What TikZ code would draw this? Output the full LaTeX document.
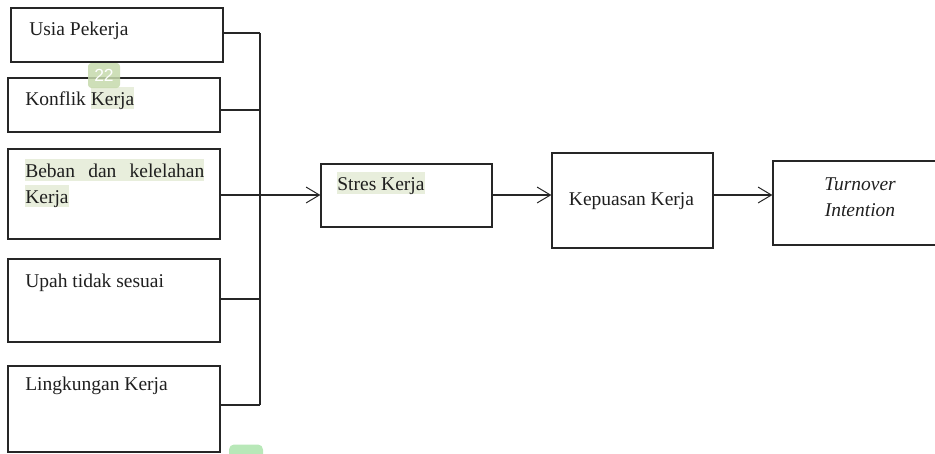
\documentclass[tikz,border=0pt]{standalone}
\usepackage{fontspec}
\setmainfont{Liberation Serif}
\setsansfont{Liberation Sans}
\usetikzlibrary{arrows.meta}
\definecolor{hlgreen}{HTML}{E8EEDC}
\definecolor{badgegreen}{HTML}{C6D9AC}
\definecolor{tabgreen}{HTML}{B8E8B8}
\newcommand{\hl}[1]{{\setlength{\fboxsep}{0pt}\colorbox{hlgreen}{\rule[-2.6pt]{0pt}{13.2pt}#1}}}
\begin{document}
\begin{tikzpicture}[x=0.6pt,y=-0.6pt,
		box/.style={draw=black!85, line width=0.7pt, minimum width=127.2pt, inner sep=0pt},
		lbl/.style={anchor=base west, inner sep=0pt, text=black!88, font=\fontsize{11.7}{15.6}\selectfont},
		link/.style={draw=black!85, line width=0.7pt},
		arr/.style={link, -{Straight Barb[length=8pt,width=9.5pt,line width=0.6pt]}}]
			\useasboundingbox (0,0) rectangle (935,453);
			\node [box, minimum height=32.4pt] (usia) at (117,35) {};
			\node [box, minimum height=32.4pt] (konflik) at (114,105) {};
			\node [box, minimum height=54pt] (beban) at (114,194) {};
			\node [box, minimum height=49.8pt] (upah) at (114,300.5) {};
			\node [box, minimum height=51.6pt] (lingkungan) at (114,409) {};
			\node [box, minimum width=102.6pt, minimum height=37.8pt] (stres) at (406.5,195.5) {};
			\node [box, minimum width=96.6pt, minimum height=57pt] (kepuasan) at (632.5,200.5) {};
			\node [box, minimum width=100.2pt, minimum height=50.4pt] (turnover) at (856.5,203) {};
			\node [lbl] (tusia) at (29,35) {Usia Pekerja};
			\node [lbl] (tkonflik) at (25,105) {Konflik \hl{Kerja}};
			\node [lbl, anchor=north west, align=left] (tbeban) at (25,159) {\hl{\makebox[107.4pt][s]{Beban dan kelelahan}}\\\hl{Kerja}};
			\node [lbl] (tupah) at (25,287) {Upah tidak sesuai};
			\node [lbl] (tlingkungan) at (25,390) {Lingkungan Kerja};
			\node [lbl] (tstres) at (337,190) {\hl{Stres Kerja}};
			\node [lbl, anchor=base] (tkepuasan) at (631.5,205) {Kepuasan Kerja};
			\node [lbl, anchor=center, align=center, font=\fontsize{11.7}{15.6}\selectfont\itshape] (tturnover) at (860,197) {Turnover\\Intention};
			\coordinate (j1) at (260,33);
			\coordinate (j2) at (260,110);
			\coordinate (j3) at (260,195);
			\coordinate (j4) at (260,299);
			\coordinate (j5) at (260,405);
			\draw [link] (j1) -- (j5);
			\draw [link] (usia.east |- j1) -- (j1);
			\draw [link] (konflik.east |- j2) -- (j2);
			\draw [link] (beban.east |- j3) -- (j3);
			\draw [link] (upah.east |- j4) -- (j4);
			\draw [link] (lingkungan.east |- j5) -- (j5);
			\draw [arr] (j3) -- (stres.west |- j3);
			\draw [arr] (stres.east |- j3) -- (kepuasan.west |- j3);
			\draw [arr] (kepuasan.east |- j3) -- (turnover.west |- j3);
			\node [fill=badgegreen, fill opacity=0.85, text opacity=1, rounded corners=2pt, minimum width=19.2pt, minimum height=15pt, inner sep=0pt, text=white, font=\sffamily\fontsize{10.5}{12}\selectfont] (badge) at (104,75.5) {22};
			\node [fill=tabgreen, rounded corners=3pt, minimum width=20.4pt, minimum height=9pt, inner sep=0pt] (tab) at (246,452) {};
		\end{tikzpicture}
\end{document}
